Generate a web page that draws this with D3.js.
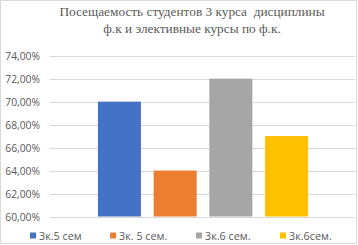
<!DOCTYPE html>
<html>
<head>
<meta charset="utf-8">
<script src="https://cdn.jsdelivr.net/npm/d3@7"></script>
<style>
  html, body { margin: 0; padding: 0; background: #fff; }
  svg { display: block; }
</style>
</head>
<body>
<div id="chart"></div>
<script>
// данные с картинки
const titleLines = ['Посещаемость студентов 3 курса  дисциплины', 'ф.к и элективные курсы по ф.к.'];
const seriesNames = ['3к.5 сем', '3к. 5 сем.', '3к.6 сем.', '3к.6сем.'];
const seriesValues = [0.70, 0.64, 0.72, 0.67];
const seriesColors = ['#4472c4', '#ed7d31', '#a5a5a5', '#ffc000'];
const yTicks = [0.60, 0.62, 0.64, 0.66, 0.68, 0.70, 0.72, 0.74];

const W = 358, H = 245;
const PLOT = { LEFT: 50, RIGHT: 356, TOP: 55.7, BOTTOM: 216.5 };

const svg = d3.select('#chart')
  .append('svg')
  .attr('width', W)
  .attr('height', H);

// рамка
svg.append('rect')
  .attr('x', 0.5).attr('y', 0.5)
  .attr('width', W - 2).attr('height', H - 2)
  .attr('fill', '#fff')
  .attr('stroke', '#d9d9d9');

// заголовок (двойной пробел как в оригинале)
svg.append('text')
  .attr('text-anchor', 'middle')
  .attr('font-family', '"Liberation Serif", "Times New Roman", serif')
  .attr('font-size', 13.3)
  .attr('fill', '#595959')
  .style('white-space', 'pre')
  .selectAll('tspan')
  .data(titleLines)
  .join('tspan')
  .attr('x', 192)
  .attr('y', (d, i) => 16 + i * 16.5)
  .text(d => d);

const y = d3.scaleLinear().domain([0.60, 0.74]).range([PLOT.BOTTOM, PLOT.TOP]);

const x = d3.scaleBand()
  .domain(seriesNames)
  .range([PLOT.LEFT, PLOT.RIGHT])
  .paddingInner(0.228)
  .paddingOuter(0.86);

// сетка
svg.append('g')
  .selectAll('line')
  .data(yTicks)
  .join('line')
  .attr('x1', PLOT.LEFT)
  .attr('x2', PLOT.RIGHT - 1)
  .attr('y1', d => Math.round(y(d)) + 0.5)
  .attr('y2', d => Math.round(y(d)) + 0.5)
  .attr('stroke', '#d9d9d9')
  .attr('stroke-width', 1);

// подписи оси Y
const fmt = d => d3.format('.2f')(d * 100).replace('.', ',') + '%';
svg.append('g')
  .selectAll('text')
  .data(yTicks)
  .join('text')
  .attr('x', 40)
  .attr('y', d => y(d) + 4)
  .attr('text-anchor', 'end')
  .attr('font-family', '"Open Sans", "Liberation Sans", sans-serif')
  .attr('font-size', 10.3)
  .attr('fill', '#595959')
  .text(fmt);

// столбцы
svg.append('g')
  .selectAll('rect')
  .data(seriesValues)
  .join('rect')
  .attr('x', (d, i) => x(seriesNames[i]))
  .attr('y', d => y(d))
  .attr('width', x.bandwidth())
  .attr('height', d => y(0.60) - y(d))
  .attr('fill', (d, i) => seriesColors[i]);

// легенда
const legendX = [30, 110, 196, 280];
const legend = svg.append('g')
  .selectAll('g')
  .data(seriesNames)
  .join('g')
  .attr('transform', (d, i) => `translate(${legendX[i]}, 236)`);

legend.append('rect')
  .attr('x', 0).attr('y', -3.5)
  .attr('width', 6).attr('height', 6)
  .attr('fill', (d, i) => seriesColors[i]);

legend.append('text')
  .attr('x', 9)
  .attr('y', 4)
  .attr('font-family', '"Open Sans", "Liberation Sans", sans-serif')
  .attr('font-size', 10.8)
  .attr('fill', '#595959')
  .text(d => d);
</script>
</body>
</html>
